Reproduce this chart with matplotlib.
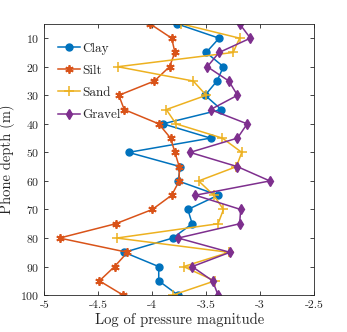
import numpy as np
import matplotlib
matplotlib.use("Agg")
import matplotlib.pyplot as plt

plt.rcParams['font.family'] = 'serif'
plt.rcParams['font.serif'] = ['cmr10']
plt.rcParams['mathtext.fontset'] = 'cm'
plt.rcParams['axes.formatter.use_mathtext'] = True
plt.rcParams['text.color'] = '#262626'
plt.rcParams['axes.labelcolor'] = '#262626'

# Tiefen (m) und Log-Druckwerte je Bodentyp
depth = [5, 10, 15, 20, 25, 30, 35, 40, 45, 50,
         55, 60, 65, 70, 75, 80, 85, 90, 95, 100]
clay = [-3.77, -3.38, -3.50, -3.34, -3.40, -3.51, -3.36, -3.90, -3.46, -4.22,
        -3.74, -3.76, -3.39, -3.67, -3.63, -3.81, -4.26, -3.94, -3.94, -3.76]
silt = [-4.02, -3.82, -3.79, -3.84, -3.98, -4.31, -4.26, -3.94, -3.83, -3.79,
        -3.75, -3.75, -3.82, -4.00, -4.34, -4.86, -4.23, -4.35, -4.49, -4.27]
sand = [-3.73, -3.19, -3.25, -4.32, -3.62, -3.50, -3.87, -3.78, -3.35, -3.17,
        -3.22, -3.57, -3.43, -3.34, -3.39, -4.33, -3.29, -3.71, -3.42, -3.81]
gravel = [-3.19, -3.09, -3.38, -3.49, -3.29, -3.21, -3.46, -3.12, -3.21, -3.65,
          -3.21, -2.91, -3.60, -3.18, -3.19, -3.76, -3.28, -3.63, -3.44, -3.39]

x_ticks = [-5, -4.5, -4, -3.5, -3, -2.5]
y_ticks = [10, 20, 30, 40, 50, 60, 70, 80, 90, 100]

fig = plt.figure(figsize=(3.47, 3.32), dpi=100)
ax = fig.add_axes([0.128, 0.111, 0.777, 0.817])

ax.plot(clay, depth, '-o', color='#0072BD', lw=1.1, ms=5, label='Clay')
ax.plot(silt, depth, '-', marker=(6, 2, 0), color='#D95319', lw=1.1, ms=6,
        mew=1.3, label='Silt')
ax.plot(sand, depth, '-+', color='#EDB120', lw=1.1, ms=7, mew=1.1, label='Sand')
ax.plot(gravel, depth, '-d', color='#7E2F8E', lw=1.1, ms=5.5, label='Gravel')

ax.set_xlim(-5, -2.5)
ax.set_ylim(100, 5)
ax.set_xticks(x_ticks)
ax.set_yticks(y_ticks)
ax.set_xticklabels(['-5', '-4.5', '-4', '-3.5', '-3', '-2.5'])
ax.tick_params(direction='in', top=True, right=True, labelsize=8.5,
               length=3, width=0.6, color='#262626', labelcolor='#262626')
for s in ax.spines.values():
    s.set_color('#262626')
    s.set_linewidth(0.6)

ax.set_xlabel('Log of pressure magnitude', fontsize=10.5, labelpad=2)
ax.set_ylabel('Phone depth (m)', fontsize=10.5, labelpad=4)

ax.legend(loc='upper left', bbox_to_anchor=(0.0, 0.98), frameon=False,
          fontsize=9.5, handlelength=1.7, handletextpad=0.2,
          labelspacing=0.75, borderaxespad=0.6)

fig.savefig('out.png', dpi=100)
